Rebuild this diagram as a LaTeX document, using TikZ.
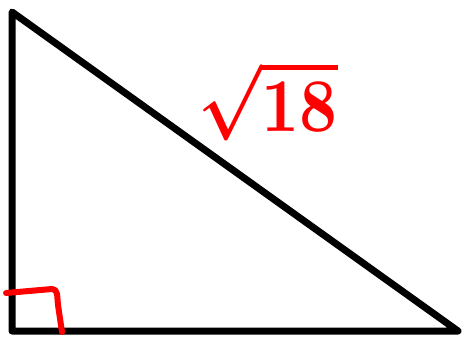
\documentclass[tikz,border=0pt]{standalone}
\usepackage{amsmath,amssymb}
\usetikzlibrary{positioning,calc}
\definecolor{Ink}{HTML}{000000}
\definecolor{Pen}{HTML}{FF0000}

\begin{document}
\begin{tikzpicture}[x=1pt,y=-1pt,
    side/.style={line width=7pt,Ink,line join=round,line cap=round},
    anglemark/.style={line width=6pt,Pen,line cap=round,line join=round}]
        \useasboundingbox (0,0) rectangle (466,339);
        \coordinate (top) at (12,12);
        \coordinate (corner) at (12,331);
        \coordinate (tip) at (458,331);
        \draw[side] (top) -- (corner) -- (tip) -- cycle;
        % right angle
        \coordinate (m1) at (6,293);
        \coordinate (m2) at (52,289);
        \coordinate (m3) at (62,332);
        \draw[anglemark] (m1) -- (m2) .. controls (58,289) and (57,296) .. (58,305) -- (m3);
        % hypotenuse label
        \node[Pen,inner sep=0pt] (hyp) at (268,101) {\scalebox{6.6}[7.6]{\boldmath$\sqrt{18}$}};
      \end{tikzpicture}
\end{document}
